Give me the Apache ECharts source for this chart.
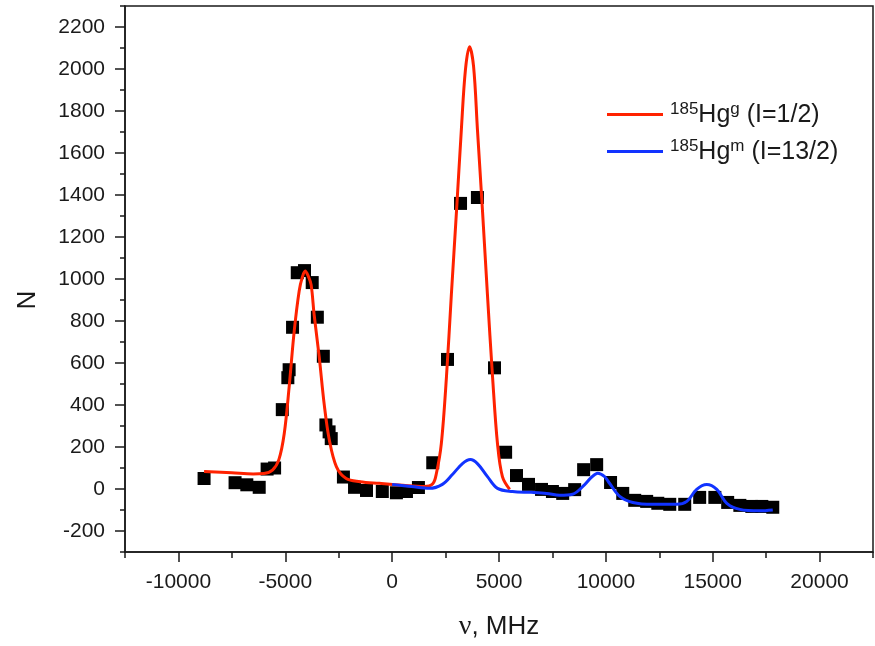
<!DOCTYPE html>
<html>
<head>
<meta charset="utf-8">
<script src="https://cdn.jsdelivr.net/npm/echarts@6/dist/echarts.min.js"></script>
<style>
  html, body { margin: 0; padding: 0; background: #fff; }
  #chart { width: 875px; height: 646px; }
</style>
</head>
<body>
<div id="chart"></div>
<script>
// Measured counts N versus frequency ν (MHz)
const measX = [-8800, -7350, -6800, -6220, -5850, -5500, -5140, -4880, -4820, -4660,
  -4440, -4100, -3740, -3500, -3220, -3100, -2950, -2850, -2280, -1760,
  -1200, -460, 200, 670, 1230, 1900, 2590, 3200, 3990, 4790,
  5310, 5820, 6380, 6990, 7500, 7980, 8540, 8960, 9570, 10220,
  10790, 11350, 11910, 12430, 12990, 13690, 14390, 15100, 15700, 16270,
  16830, 17300, 17810];
const measN = [50, 30, 20, 8, 95, 100, 378, 530, 568, 770,
  1030, 1040, 983, 818, 632, 305, 272, 240, 57, 8,
  -7, -12, -18, -12, 7, 125, 617, 1360, 1388, 577,
  175, 64, 22, -2, -12, -21, -3, 92, 116, 31,
  -21, -54, -59, -68, -73, -73, -40, -40, -64, -78,
  -83, -83, -87];

// Fit curve, ground state 185Hg g (I=1/2)
const fitGX = [-8800, -7500, -6500, -6000, -5600, -5300, -5050, -4820, -4580, -4350,
  -4200, -4070, -3930, -3790, -3650, -3410, -3180, -2940, -2610, -2150,
  -1500, -600, 500, 1500, 1900, 2070, 2300, 2540, 2770, 3010,
  3240, 3430, 3620, 3810, 3990, 4230, 4460, 4700, 4930, 5160, 5500];
const fitGY = [83, 77, 72, 74, 90, 140, 263, 485, 754, 943,
  1010, 1038, 1015, 972, 830, 627, 404, 234, 107, 50,
  35, 27, 18, 12, 25, 74, 215, 532, 924, 1321,
  1714, 1997, 2106, 2012, 1714, 1321, 924, 532, 215, 59, -2];

// Fit curve, isomer 185Hg m (I=13/2)
const fitMX = [0, 900, 1740, 2350, 2820, 3290, 3660, 3990, 4460, 4930,
  5630, 6500, 7230, 7840, 8440, 9010, 9320, 9620, 9930, 10180,
  10650, 11260, 12190, 13320, 13790, 14250, 14720, 15190, 15660, 16270,
  17200, 17810];
const fitMY = [22, 12, 3, 22, 69, 121, 140, 121, 59, 3,
  -12, -16, -21, -30, -25, 21, 55, 75, 60, 26,
  -35, -64, -73, -73, -59, -2, 21, -2, -68, -97,
  -104, -100];

// Axis ticks
const xMajor = [-10000, -5000, 0, 5000, 10000, 15000, 20000];
const xMinor = [-12500, -7500, -2500, 2500, 7500, 12500, 17500, 22500];
const yMajor = [-200, 0, 200, 400, 600, 800, 1000, 1200, 1400, 1600, 1800, 2000, 2200];
const yMinor = [-300, -100, 100, 300, 500, 700, 900, 1100, 1300, 1500, 1700, 1900, 2100, 2300];

const zip = (xs, ys) => xs.map((x, i) => [x, ys[i]]);

const FONT = 'Liberation Sans, Arial, sans-serif';
const INK = '#1a1a1a';

const chart = echarts.init(document.getElementById('chart'), null, { renderer: 'canvas' });

const xBase = { type: 'value', min: -12500, max: 22500, position: 'bottom' };
const yBase = { type: 'value', min: -300, max: 2300, position: 'left' };

chart.setOption({
  animation: false,
  backgroundColor: '#fff',
  grid: { left: 125, right: 2, top: 6, bottom: 90, show: true, borderColor: INK, borderWidth: 1.5, backgroundColor: 'transparent' },
  graphic: [{
    type: 'text',
    x: 28,
    y: 300,
    rotation: Math.PI / 2,
    style: { text: 'N', fill: INK, font: '26px ' + FONT, align: 'center', verticalAlign: 'middle' }
  }],
  legend: {
    orient: 'vertical',
    left: 602,
    top: 96,
    icon: 'rect',
    itemWidth: 56,
    itemHeight: 3,
    itemGap: 10,
    data: ['g', 'm'],
    formatter: name => name === 'g'
      ? '{sup|185}{n|Hg}{sup|g}{n| (I=1/2)}'
      : '{sup|185}{n|Hg}{sup|m}{n| (I=13/2)}',
    textStyle: {
      color: INK,
      fontFamily: FONT,
      padding: [0, 0, 0, 2],
      rich: {
        n: { fontSize: 25, fontFamily: FONT, color: INK, lineHeight: 27, verticalAlign: 'bottom' },
        sup: { fontSize: 17, fontFamily: FONT, color: INK, lineHeight: 17, verticalAlign: 'top' }
      }
    }
  },
  xAxis: [
    Object.assign({}, xBase, {
      name: '{nu|ν}{t|, MHz}',
      nameLocation: 'middle',
      nameGap: 61,
      nameTextStyle: {
        rich: {
          nu: { fontSize: 28, fontFamily: 'Liberation Serif, serif', color: INK },
          t: { fontSize: 26, fontFamily: FONT, color: INK }
        }
      },
      axisLine: { show: true, onZero: false, lineStyle: { color: INK, width: 1.5 } },
      axisTick: { show: true, inside: false, length: 10, customValues: xMajor, lineStyle: { color: INK, width: 1.5 } },
      axisLabel: { show: true, margin: 20, customValues: xMajor, formatter: v => String(v), color: INK, fontFamily: FONT, fontSize: 21 },
      splitLine: { show: false }
    }),
    Object.assign({}, xBase, {
      axisLine: { show: false, onZero: false },
      axisTick: { show: true, inside: false, length: 6, customValues: xMinor, lineStyle: { color: INK, width: 1.5 } },
      axisLabel: { show: false },
      splitLine: { show: false }
    })
  ],
  yAxis: [
    Object.assign({}, yBase, {
      axisLine: { show: true, onZero: false, lineStyle: { color: INK, width: 1.5 } },
      axisTick: { show: true, inside: false, length: 10, customValues: yMajor, lineStyle: { color: INK, width: 1.5 } },
      axisLabel: { show: true, margin: 20, customValues: yMajor, formatter: v => String(v), color: INK, fontFamily: FONT, fontSize: 21 },
      splitLine: { show: false }
    }),
    Object.assign({}, yBase, {
      axisLine: { show: false, onZero: false },
      axisTick: { show: true, inside: false, length: 5, customValues: yMinor, lineStyle: { color: INK, width: 1.5 } },
      axisLabel: { show: false },
      splitLine: { show: false }
    })
  ],
  series: [
    {
      name: 'data',
      type: 'scatter',
      data: zip(measX, measN),
      symbol: 'rect',
      symbolSize: 13,
      itemStyle: { color: '#000', opacity: 1 },
      z: 2
    },
    {
      name: 'g',
      type: 'line',
      data: zip(fitGX, fitGY),
      showSymbol: false,
      symbol: 'none',
      smooth: 0.35,
      lineStyle: { color: '#ff2200', width: 3 },
      itemStyle: { color: '#ff2200' },
      z: 3
    },
    {
      name: 'm',
      type: 'line',
      data: zip(fitMX, fitMY),
      showSymbol: false,
      symbol: 'none',
      smooth: 0.35,
      lineStyle: { color: '#1133ff', width: 3 },
      itemStyle: { color: '#1133ff' },
      z: 4
    }
  ]
});
</script>
</body>
</html>
